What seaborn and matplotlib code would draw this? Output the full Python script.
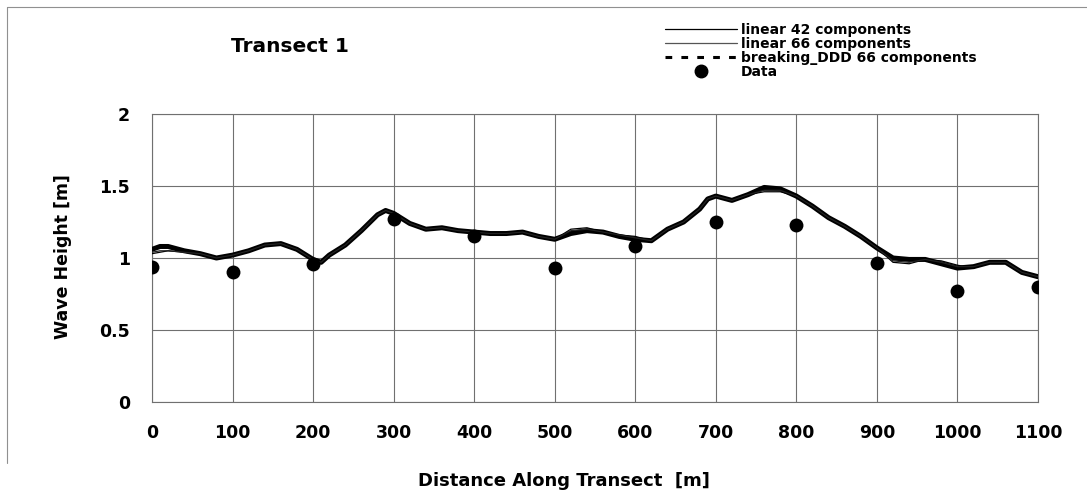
import matplotlib
matplotlib.use("Agg")
import matplotlib.pyplot as plt
import seaborn as sns
import pandas as pd
from matplotlib.lines import Line2D

# ---- data ----
distance = [0, 10, 20, 40, 60, 80, 100, 120, 140, 160, 180, 200, 210, 220, 240, 260,
            280, 290, 300, 320, 340, 360, 380, 400, 420, 440, 460, 480, 500, 520,
            540, 560, 580, 600, 620, 640, 660, 680, 690, 700, 720, 740, 760, 780,
            800, 820, 840, 860, 880, 900, 920, 940, 960, 980, 1000, 1020, 1040,
            1060, 1080, 1100]

breaking_ddd_66 = [1.06, 1.08, 1.08, 1.05, 1.03, 1.00, 1.02, 1.05, 1.09, 1.10, 1.06,
                   0.99, 0.97, 1.02, 1.09, 1.19, 1.30, 1.33, 1.31, 1.24, 1.20, 1.21,
                   1.19, 1.18, 1.17, 1.17, 1.18, 1.15, 1.13, 1.17, 1.19, 1.18, 1.15,
                   1.13, 1.12, 1.20, 1.25, 1.34, 1.41, 1.43, 1.40, 1.44, 1.49, 1.48,
                   1.43, 1.36, 1.28, 1.22, 1.15, 1.07, 1.00, 0.99, 0.99, 0.96, 0.93,
                   0.94, 0.97, 0.97, 0.90, 0.87]

linear_42 = [1.03, 1.04, 1.05, 1.04, 1.03, 1.00, 1.02, 1.05, 1.09, 1.10, 1.06,
             0.99, 0.97, 1.02, 1.09, 1.19, 1.30, 1.33, 1.31, 1.24, 1.20, 1.21,
             1.19, 1.18, 1.17, 1.17, 1.18, 1.15, 1.13, 1.20, 1.21, 1.18, 1.16,
             1.15, 1.12, 1.20, 1.25, 1.34, 1.41, 1.43, 1.40, 1.44, 1.46, 1.46,
             1.43, 1.36, 1.28, 1.22, 1.15, 1.07, 0.97, 0.96, 0.99, 0.98, 0.95,
             0.93, 0.97, 0.98, 0.90, 0.87]

linear_66 = [1.04, 1.05, 1.05, 1.04, 1.03, 1.00, 1.02, 1.05, 1.09, 1.10, 1.06,
             0.99, 0.97, 1.02, 1.09, 1.19, 1.30, 1.33, 1.31, 1.24, 1.20, 1.21,
             1.19, 1.18, 1.17, 1.17, 1.18, 1.15, 1.13, 1.19, 1.20, 1.18, 1.16,
             1.14, 1.12, 1.20, 1.25, 1.34, 1.41, 1.43, 1.40, 1.44, 1.47, 1.47,
             1.43, 1.36, 1.28, 1.22, 1.15, 1.07, 0.98, 0.97, 0.99, 0.97, 0.94,
             0.94, 0.97, 0.97, 0.90, 0.87]

data_distance = [0, 100, 200, 300, 400, 500, 600, 700, 800, 900, 1000, 1100]
data_height = [0.94, 0.90, 0.96, 1.27, 1.15, 0.93, 1.08, 1.25, 1.23, 0.965, 0.77, 0.80]

x_ticks = [0, 100, 200, 300, 400, 500, 600, 700, 800, 900, 1000, 1100]
y_ticks = [0, 0.5, 1, 1.5, 2]
y_tick_labels = ["0", "0.5", "1", "1.5", "2"]

legend_labels = ["linear 42 components", "linear 66 components",
                 "breaking_DDD 66 components", "Data"]

# ---- style ----
sns.set_style("white")
plt.rcParams["font.family"] = ["DejaVu Sans"]
plt.rcParams["font.weight"] = "bold"
plt.rcParams["axes.labelweight"] = "bold"
plt.rcParams["text.color"] = "black"
plt.rcParams["axes.labelcolor"] = "black"
plt.rcParams["xtick.color"] = "black"
plt.rcParams["ytick.color"] = "black"

W, H = 1087, 494
fig = plt.figure(figsize=(W / 100, H / 100), dpi=100)
ax = fig.add_axes([152 / W, 1 - 402 / H, (1038 - 152) / W, (402 - 114) / H])

lines_df = pd.DataFrame({
    "distance": distance,
    "breaking": breaking_ddd_66,
    "lin42": linear_42,
    "lin66": linear_66,
})
pts_df = pd.DataFrame({"distance": data_distance, "height": data_height})

sns.lineplot(data=lines_df, x="distance", y="breaking", ax=ax, color="black",
             lw=3.6, estimator=None, sort=False, zorder=3)
sns.lineplot(data=lines_df, x="distance", y="lin42", ax=ax, color="black",
             lw=0.9, estimator=None, sort=False, zorder=4)
sns.lineplot(data=lines_df, x="distance", y="lin66", ax=ax, color="#222222",
             lw=0.9, estimator=None, sort=False, zorder=4)
sns.scatterplot(data=pts_df, x="distance", y="height", ax=ax, color="black",
                s=100, edgecolor="black", linewidth=0, zorder=5)

ax.set_xlim(0, 1100)
ax.set_ylim(0, 2)
ax.set_xticks(x_ticks)
ax.set_yticks(y_ticks)
ax.set_yticklabels(y_tick_labels)
ax.grid(True, color="#707070", lw=0.8)
for sp in ax.spines.values():
    sp.set_visible(True)
    sp.set_color("#707070")
    sp.set_linewidth(0.8)
ax.tick_params(axis="both", length=6, width=0.8, color="#707070",
               labelsize=12.5, pad=10, labelcolor="black")
for lab in ax.get_xticklabels() + ax.get_yticklabels():
    lab.set_fontweight("bold")

ax.set_xlabel("Distance Along Transect  [m]", fontsize=13, fontweight="bold",
              color="black")
ax.set_ylabel("Wave Height [m]", fontsize=12.5, fontweight="bold", color="black")
ax.xaxis.set_label_coords((564 - 152) / 886, (402 - 472) / 288)
ax.yaxis.set_label_coords((72 - 152) / 886, (402 - 257) / 288)

fig.text(290 / W, 1 - 47 / H, "Transect 1", fontsize=14.5, fontweight="bold",
         ha="center", va="center", color="black")

handles = [
    Line2D([], [], color="black", lw=0.9),
    Line2D([], [], color="#555555", lw=0.9),
    Line2D([], [], color="black", lw=2.2, ls=(0, (2.2, 3))),
    Line2D([], [], color="black", marker="o", ls="none", markersize=9),
]
leg = fig.legend(handles, legend_labels, loc="upper left",
                 bbox_to_anchor=(665 / W, 1 - 23 / H), frameon=False,
                 fontsize=10, handlelength=5.2, handletextpad=0.25,
                 labelspacing=0.0, borderpad=0, borderaxespad=0)
for t in leg.get_texts():
    t.set_fontweight("bold")
    t.set_color("black")

# faint outer frame of the scanned figure
fig.add_artist(Line2D([7 / W, 7 / W], [1 - 463 / H, 1 - 7 / H], color="#909090",
                      lw=0.8, transform=fig.transFigure))
fig.add_artist(Line2D([7 / W, 1.0], [1 - 7 / H, 1 - 7 / H], color="#909090",
                      lw=0.8, transform=fig.transFigure))

fig.savefig("out.png", dpi=100)
